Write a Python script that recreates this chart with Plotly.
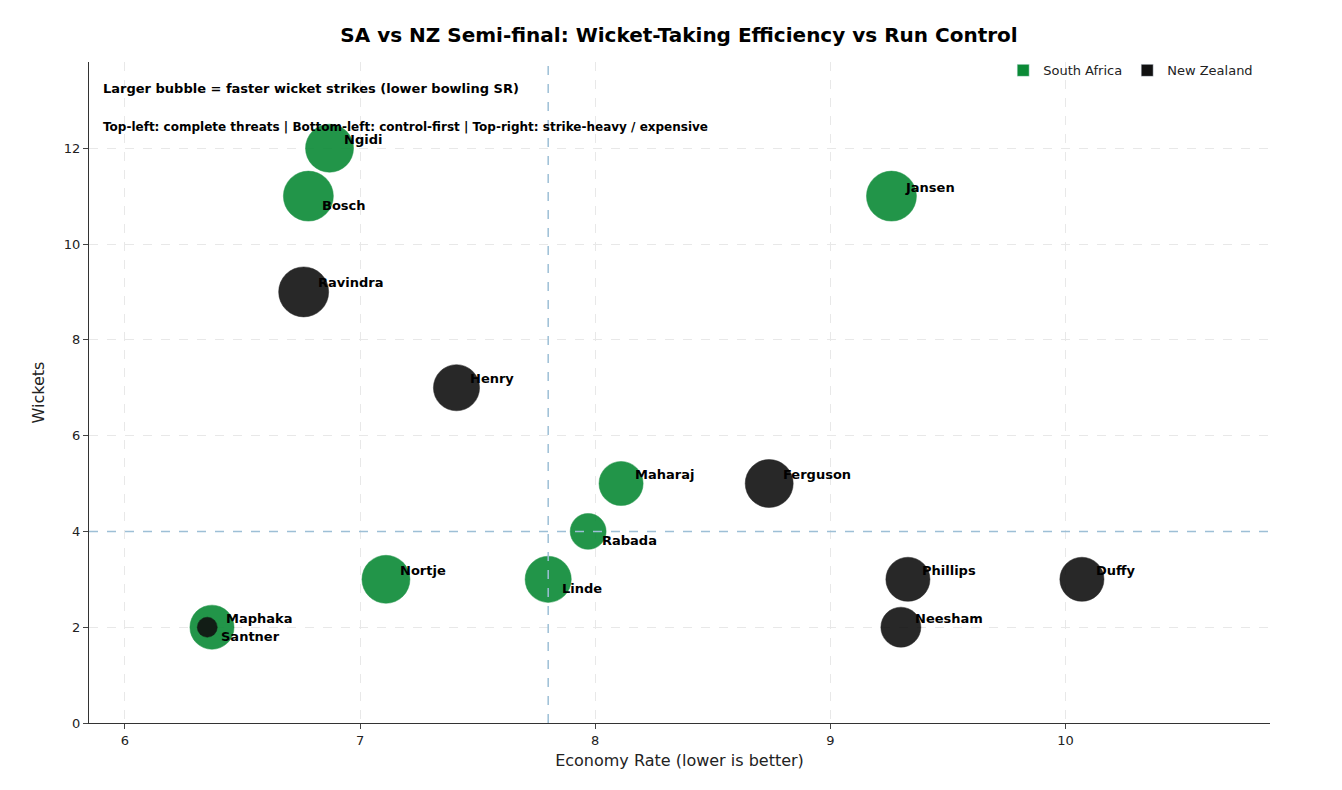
import plotly.graph_objects as go

# player data
players = ["Ngidi", "Bosch", "Jansen", "Ravindra", "Henry", "Maharaj", "Ferguson", "Rabada",
           "Nortje", "Linde", "Phillips", "Duffy", "Neesham", "Maphaka", "Santner"]
teams = ["SA", "SA", "SA", "NZ", "NZ", "SA", "NZ", "SA", "SA", "SA", "NZ", "NZ", "NZ", "SA", "NZ"]
economy = [6.87, 6.78, 9.26, 6.76, 7.41, 8.11, 8.74, 7.97, 7.11, 7.80, 9.33, 10.07, 9.30, 6.37, 6.35]
wickets = [12, 11, 11, 9, 7, 5, 5, 4, 3, 3, 3, 3, 2, 2, 2]
strike_rate = [12.5, 12.0, 12.0, 12.0, 13.0, 13.6, 12.5, 16.7, 12.5, 13.0, 13.6, 13.6, 15.0, 13.6, 30.0]
label_below = ["Bosch", "Rabada", "Linde", "Santner"]

avg_economy = 7.80
avg_wickets = 4

colors = {"SA": "#0b8a36", "NZ": "#111111"}
names = {"SA": "South Africa", "NZ": "New Zealand"}
FONT = "DejaVu Sans"

fig = go.Figure()

for team in ["SA", "NZ"]:
    idx = [i for i, t in enumerate(teams) if t == team]
    fig.add_trace(go.Scatter(
        x=[economy[i] for i in idx], y=[wickets[i] for i in idx],
        mode="markers", showlegend=False, hovertext=[players[i] for i in idx],
        marker=dict(size=[600 / strike_rate[i] for i in idx], sizemode="diameter",
                    color=colors[team], opacity=0.9, line=dict(width=0.5, color=colors[team]))))

# legend swatches as rectangles
for team in ["SA", "NZ"]:
    fig.add_trace(go.Bar(x=[None], y=[None], name=names[team], marker_color=colors[team]))

for p, x, y in zip(players, economy, wickets):
    below = p in label_below
    fig.add_annotation(x=x, y=y, text=f"<b>{p}</b>", showarrow=False, xanchor="left",
                       yanchor="middle", xshift=12, yshift=-9 if below else 9,
                       font=dict(size=13, color="black", family=FONT))

fig.add_shape(type="line", x0=avg_economy, x1=avg_economy, y0=0, y1=1, yref="paper",
              line=dict(color="#9dbfd6", width=1.5, dash="dash"))
fig.add_shape(type="line", x0=0, x1=1, xref="paper", y0=avg_wickets, y1=avg_wickets,
              line=dict(color="#9dbfd6", width=1.5, dash="dash"))

fig.add_annotation(x=0.01, y=0.975, xref="paper", yref="paper", xanchor="left", showarrow=False,
                   text="<b>Larger bubble = faster wicket strikes (lower bowling SR)</b>",
                   font=dict(size=13, color="black", family=FONT))
fig.add_annotation(x=0.01, y=0.915, xref="paper", yref="paper", xanchor="left", showarrow=False,
                   text="<b>Top-left: complete threats | Bottom-left: control-first | Top-right: strike-heavy / expensive</b>",
                   font=dict(size=12, color="black", family=FONT))

fig.update_layout(
    width=1342, height=790,
    paper_bgcolor="white", plot_bgcolor="white",
    font=dict(family=FONT, size=13, color="#222"),
    title=dict(text="<b>SA vs NZ Semi-final: Wicket-Taking Efficiency vs Run Control</b>",
               x=0.5, y=0.975, xanchor="center", font=dict(size=20, color="black")),
    margin=dict(l=81, r=80, t=54, b=75),
    legend=dict(orientation="h", x=0.99, y=1.01, xanchor="right", yanchor="top",
                bgcolor="rgba(0,0,0,0)", font=dict(size=13)),
    barmode="overlay",
)
fig.update_xaxes(range=[5.847, 10.87], tickvals=[6, 7, 8, 9, 10], title_text="Economy Rate (lower is better)",
                 showline=True, linecolor="#333", ticks="outside", mirror=False,
                 showgrid=True, gridcolor="#e8e8e8", griddash="dash", zeroline=False,
                 title_font=dict(size=16), title_standoff=8)
fig.update_yaxes(range=[0, 13.8], tickvals=[0, 2, 4, 6, 8, 10, 12], title_text="Wickets",
                 showline=True, linecolor="#333", ticks="outside",
                 showgrid=True, gridcolor="#e8e8e8", griddash="dash", zeroline=False,
                 title_font=dict(size=16))

fig.write_html("out.html")
